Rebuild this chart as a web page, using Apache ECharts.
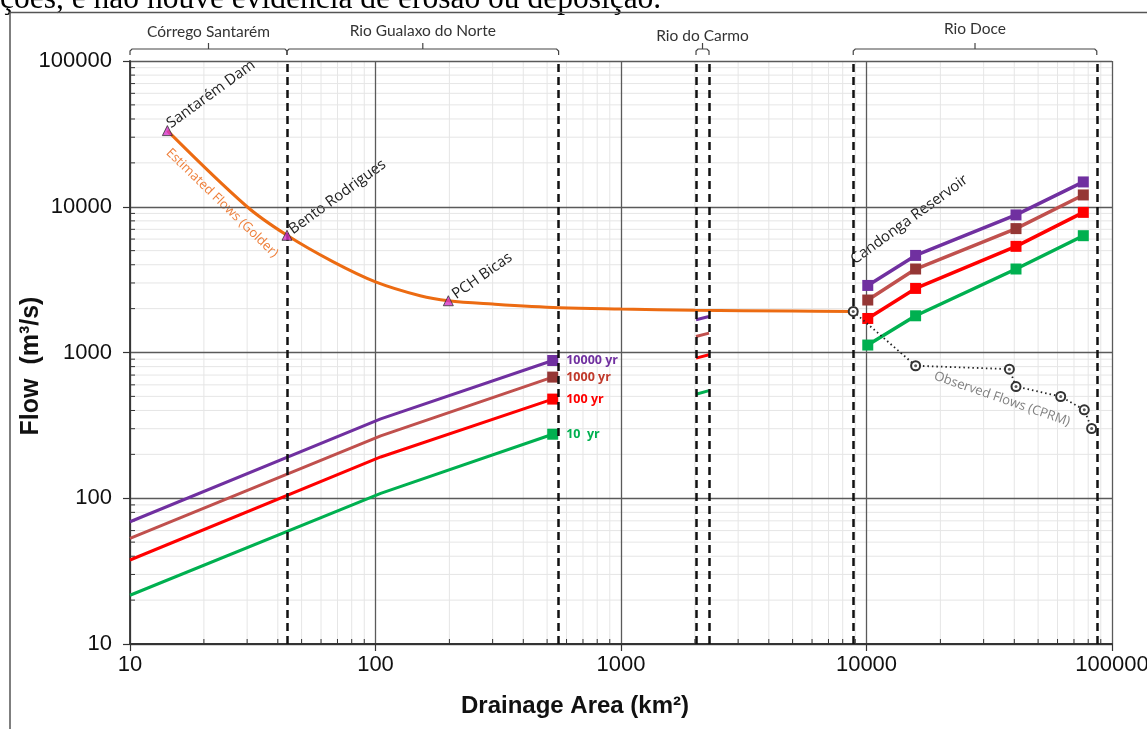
<!DOCTYPE html>
<html>
<head>
<meta charset="utf-8">
<script src="https://cdn.jsdelivr.net/npm/echarts@6/dist/echarts.min.js"></script>
<style>
html,body{margin:0;padding:0;background:#fff;}
#c{width:1147px;height:729px;}
</style>
</head>
<body>
<div id="c"></div>
<script>
// ---------- data ----------
const xTickLabels = ['10', '100', '1000', '10000', '100000'];
const yTickLabels = ['10', '100', '1000', '10000', '100000'];

// Estimated flows (Golder)
const estX = [14.2, 30, 43.6, 67, 100, 152, 198, 300, 560, 1000, 2000, 5000, 8830];
const estY = [33300, 10000, 6370, 4200, 3050, 2450, 2265, 2150, 2030, 1986, 1950, 1925, 1912];

// Named sites on the estimated curve
const siteNames = ['Santarém Dam', 'Bento Rodrigues', 'PCH Bicas'];
const siteX = [14.2, 43.6, 198];
const siteY = [33300, 6370, 2265];

// Return period flows
const periods = ['10000 yr', '1000 yr', '100 yr', '10  yr'];
const upperX = [10, 105, 527];
const upper10000 = [69, 350, 881];
const upper1000 = [53, 268, 678];
const upper100 = [37.7, 192, 479];
const upper10 = [21.6, 108, 275];

const carmoX = [2021, 2283];
const carmo10000 = [1677, 1766];
const carmo1000 = [1288, 1358];
const carmo100 = [915, 964];
const carmo10 = [517, 548];

const doceX = [10120, 15850, 40640, 76400];
const doce10000 = [2885, 4635, 8790, 14800];
const doce1000 = [2291, 3740, 7080, 12050];
const doce100 = [1712, 2752, 5350, 9150];
const doce10 = [1125, 1786, 3740, 6330];

// Observed flows (CPRM)
const obsX = [8830, 15850, 38200, 40640, 61800, 77100, 82600];
const obsY = [1912, 811, 769, 584, 499, 404, 301];

// River reaches
const reachNames = ['Córrego Santarém', 'Rio Gualaxo do Norte', 'Rio do Carmo', 'Rio Doce'];
const reachStart = [10, 43.6, 2021, 8830];
const reachEnd = [43.6, 557, 2283, 86700];
const boundaries = [43.6, 557, 2021, 2283, 8830, 86700];

// ---------- styling ----------
const lineColors = ['#7030a0', '#c0504d', '#ff0000', '#00b050'];
const markColors = ['#7030a0', '#953735', '#ff0000', '#00b050'];
const labelColors = ['#7030a0', '#c0392b', '#ff0000', '#00b050'];
const upperSets = [upper10000, upper1000, upper100, upper10];
const carmoSets = [carmo10000, carmo1000, carmo100, carmo10];
const doceSets = [doce10000, doce1000, doce100, doce10];
const reachLabelY = [32, 31, 36, 29];

const decades = [10, 100, 1000, 10000];
const minorVals = [];
decades.forEach(d => { for (let m = 2; m <= 9; m++) minorVals.push(d * m); });

const zip = (xs, ys) => xs.map((x, i) => [x, ys[i]]);
const series = [];

// minor grid (x)
series.push({
  type: 'custom', z: -1, silent: true, clip: false, animation: false,
  data: minorVals.map(v => [v, 10]),
  renderItem: (params, api) => {
    const cs = params.coordSys;
    const x = api.coord([api.value(0), 10])[0];
    return { type: 'group', children: [
      { type: 'line', shape: { x1: x, y1: cs.y, x2: x, y2: cs.y + cs.height }, style: { stroke: '#e6e6e6', lineWidth: 1 } },
      { type: 'line', shape: { x1: x, y1: cs.y + cs.height, x2: x, y2: cs.y + cs.height - 5 }, style: { stroke: '#333', lineWidth: 1 } }
    ]};
  }
});
// minor grid (y)
series.push({
  type: 'custom', z: -1, silent: true, clip: false, animation: false,
  data: minorVals.map(v => [10, v]),
  renderItem: (params, api) => {
    const cs = params.coordSys;
    const y = api.coord([10, api.value(1)])[1];
    return { type: 'group', children: [
      { type: 'line', shape: { x1: cs.x, y1: y, x2: cs.x + cs.width, y2: y }, style: { stroke: '#e6e6e6', lineWidth: 1 } },
      { type: 'line', shape: { x1: cs.x, y1: y, x2: cs.x + 5, y2: y }, style: { stroke: '#333', lineWidth: 1 } }
    ]};
  }
});

// reach brackets
series.push({
  type: 'custom', silent: true, clip: false, animation: false,
  data: reachNames.map((n, i) => [reachStart[i], reachEnd[i]]),
  renderItem: (params, api) => {
    const i = params.dataIndex;
    const x1 = api.coord([api.value(0), 100000])[0];
    const x2 = api.coord([api.value(1), 100000])[0];
    const xc = (x1 + x2) / 2;
    const yb = 49, ye = 55, yt = 43;
    return { type: 'group', children: [
      { type: 'polyline', shape: { points: [[x1, ye], [x1, yb + 2], [x1 + 2, yb], [x2 - 2, yb], [x2, yb + 2], [x2, ye]] },
        style: { stroke: '#444', fill: 'none', lineWidth: 1.2 } },
      { type: 'line', shape: { x1: xc, y1: yb, x2: xc, y2: yt }, style: { stroke: '#444', lineWidth: 1.2 } },
      { type: 'text', style: { text: reachNames[i], x: xc, y: reachLabelY[i], align: 'center', verticalAlign: 'middle',
        fontSize: 15.5, fontFamily: 'Lato', fill: '#333' } }
    ]};
  }
});

// boundary dashed lines
series.push({
  type: 'line', data: [], silent: true, animation: false,
  markLine: {
    silent: true, symbol: 'none', animation: false,
    label: { show: false },
    lineStyle: { color: '#111', width: 2.5, type: [8, 5] },
    data: boundaries.map(b => ({ xAxis: b }))
  }
});

// estimated flows
series.push({
  type: 'line', name: 'Estimated Flows (Golder)', data: zip(estX, estY), smooth: 0.35,
  showSymbol: false, symbol: 'none', animation: false, z: 3,
  lineStyle: { color: '#ec6b12', width: 3 }
});

// return period lines
periods.forEach((p, k) => {
  const up = zip(upperX, upperSets[k]);
  const last = up.length - 1;
  series.push({
    type: 'line', name: p, animation: false, z: 4,
    data: up.map((d, i) => i === last ? {
      value: d, symbol: 'rect',
      label: { show: true, position: 'right', distance: 8, formatter: p, color: labelColors[k],
        fontSize: 12.5, fontWeight: 'bold', fontFamily: 'Open Sans' }
    } : { value: d, symbol: 'none' }),
    symbolSize: 11, showSymbol: true,
    itemStyle: { color: markColors[k] },
    lineStyle: { color: lineColors[k], width: 3 }
  });
  series.push({
    type: 'line', animation: false, z: 4, data: zip(carmoX, carmoSets[k]), symbol: 'none', showSymbol: false,
    lineStyle: { color: lineColors[k], width: 3 }
  });
  series.push({
    type: 'line', animation: false, z: 4, data: zip(doceX, doceSets[k]), symbol: 'rect', symbolSize: 11, showSymbol: true,
    itemStyle: { color: markColors[k] },
    lineStyle: { color: lineColors[k], width: 3.5 }
  });
});

// observed flows
series.push({
  type: 'line', name: 'Observed Flows (CPRM)', animation: false, z: 5, data: zip(obsX, obsY),
  symbol: 'emptyCircle', symbolSize: 9, showSymbol: true,
  itemStyle: { color: '#333', borderColor: '#333', borderWidth: 1.2 },
  lineStyle: { color: '#222', width: 1.8, type: [1.5, 3] }
});
series.push({
  type: 'scatter', animation: false, z: 6, silent: true, data: zip(obsX, obsY),
  symbol: 'circle', symbolSize: 3, itemStyle: { color: '#333' }
});

// site triangles
series.push({
  type: 'scatter', animation: false, z: 6, data: zip(siteX, siteY),
  symbol: 'triangle', symbolSize: 10,
  itemStyle: { color: '#d433c8', borderColor: '#333', borderWidth: 1 }
});

const deg = Math.PI / 180;
const annot = (text, x, y, rot, size, color, align, va, extra) => ({
  type: 'text', x: x, y: y, rotation: rot * deg, silent: true,
  style: Object.assign({ text: text, fontSize: size, fontFamily: 'Open Sans', fill: color,
    align: align || 'left', verticalAlign: va || 'bottom' }, extra || {})
});

const option = {
  animation: false,
  backgroundColor: '#fff',
  grid: { left: 130, top: 61, width: 982, height: 583, containLabel: false, outerBoundsMode: 'none' },
  xAxis: {
    type: 'log', logBase: 10, min: 10, max: 100000,
    axisLine: { lineStyle: { color: '#333', width: 1.8 } },
    axisTick: { show: true, length: 7, lineStyle: { color: '#333', width: 1.2 } },
    axisLabel: { fontSize: 22, fontFamily: 'Liberation Sans', color: '#111', margin: 10,
      formatter: (v, i) => xTickLabels[i] },
    splitLine: { show: true, lineStyle: { color: '#5a5a5a', width: 1.3 } }
  },
  yAxis: {
    type: 'log', logBase: 10, min: 10, max: 100000,
    axisLine: { lineStyle: { color: '#333', width: 1.8 } },
    axisTick: { show: true, length: 7, lineStyle: { color: '#333', width: 1.2 } },
    axisLabel: { fontSize: 22, fontFamily: 'Liberation Sans', color: '#111', margin: 18,
      formatter: (v, i) => yTickLabels[i] },
    splitLine: { show: true, lineStyle: { color: '#5a5a5a', width: 1.3 } }
  },
  series: series,
  graphic: [
    { type: 'text', x: 0, y: -0.5, silent: true,
      style: { text: 'ções, e não houve evidência de erosão ou deposição.', fontSize: 31.5, fontFamily: 'Liberation Serif',
        fill: '#000', align: 'left', verticalAlign: 'middle' } },
    { type: 'polyline', silent: true, shape: { points: [[10, 729], [10, 12.5], [1147, 12.5]] },
      style: { stroke: '#555', fill: 'none', lineWidth: 1.5 } },
    annot('Drainage Area (km²)', 575, 706, 0, 24, '#111', 'center', 'middle',
      { fontFamily: 'Liberation Sans', fontWeight: 'bold' }),
    annot('Flow  (m³/s)', 31, 366, 90, 25, '#111', 'center', 'middle',
      { fontFamily: 'Liberation Sans', fontWeight: 'bold' }),
    annot('Santarém Dam', 173, 131, 36, 15, '#222'),
    annot('Bento Rodrigues', 295, 237, 36, 15, '#222'),
    annot('PCH Bicas', 458, 302, 35, 15, '#222'),
    annot('Candonga Reservoir', 857, 267, 36, 15, '#222'),
    annot('Estimated Flows (Golder)', 222, 203, -44, 13, '#ee7f3a', 'center', 'middle'),
    annot('Observed Flows (CPRM)', 1002, 399, -19, 13, '#808080', 'center', 'middle')
  ]
};

const chart = echarts.init(document.getElementById('c'), null, { renderer: 'canvas' });
chart.setOption(option);
</script>
</body>
</html>
